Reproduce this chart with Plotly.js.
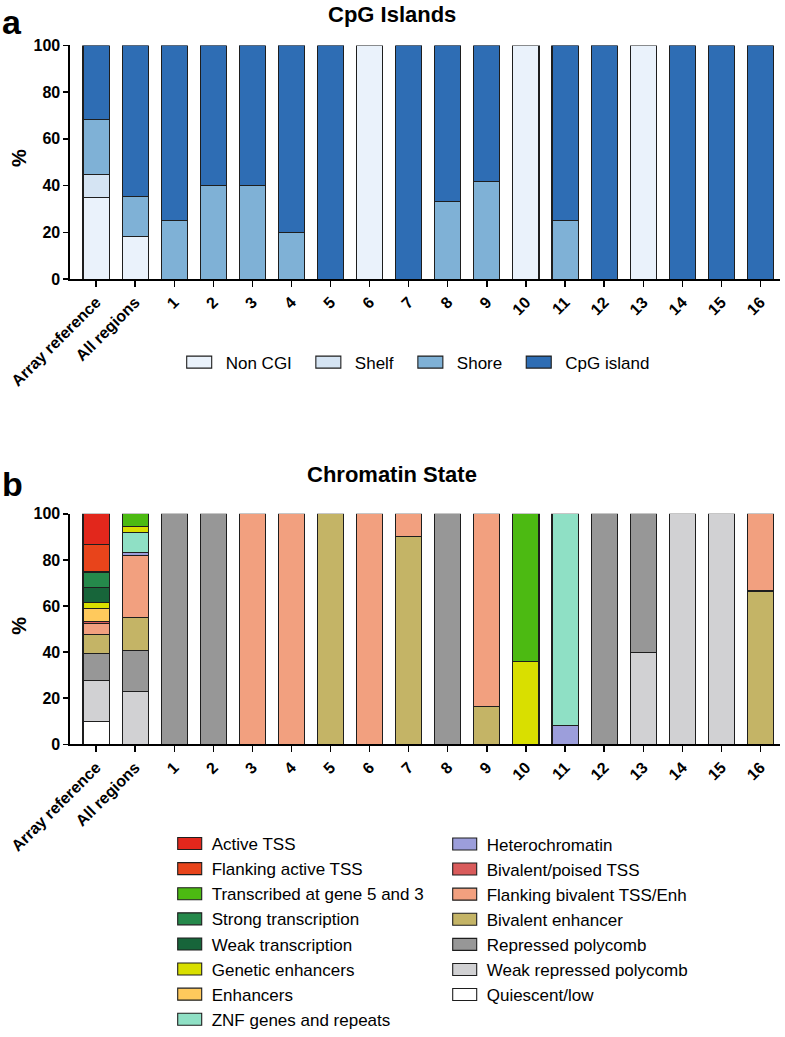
<!DOCTYPE html>
<html>
<head>
<meta charset="utf-8">
<script src="https://cdn.plot.ly/plotly-3.0.1.min.js"></script>
<style>
  html, body { margin: 0; padding: 0; background: #fff; }
  #chart { width: 785px; height: 1037px; }
</style>
</head>
<body>
<div id="chart"></div>
<script>
// ---------- categories ----------
const categories = ['Array reference', 'All regions', '1', '2', '3', '4', '5', '6', '7', '8',
  '9', '10', '11', '12', '13', '14', '15', '16'];

// ---------- panel a: CpG Islands (%) ----------
const cgiNames = ['Non CGI', 'Shelf', 'Shore', 'CpG island'];
const cgiColors = ['#eaf2fb', '#d5e4f3', '#7fb1d6', '#2e6db4'];
const nonCGI    = [35.1, 18.3, null, null, null, null, null, 100, null, null, null, 100, null, null, 100, null, null, null];
const shelf     = [9.5, null, null, null, null, null, null, null, null, null, null, null, null, null, null, null, null, null];
const shore     = [23.7, 16.9, 25, 40, 40, 20, null, null, null, 33.3, 41.7, null, 25, null, null, null, null, null];
const cpgIsland = [31.7, 64.8, 75, 60, 60, 80, 100, null, 100, 66.7, 58.3, null, 75, 100, null, 100, 100, 100];

// ---------- panel b: Chromatin State (%) ----------
const quiescent   = [9.8, null, null, null, null, null, null, null, null, null, null, null, null, null, null, null, null, null];
const weakRepPc   = [17.8, 23.0, null, null, null, null, null, null, null, null, null, null, null, null, 40, 100, 100, null];
const repressedPc = [11.9, 17.7, 100, 100, null, null, null, null, null, 100, null, null, null, 100, 60, null, null, null];
const bivEnh      = [8.0, 14.4, null, null, null, null, 100, null, 90, null, 16.5, null, null, null, null, null, null, 66.5];
const flankBiv    = [4.9, 27.0, null, null, 100, 100, null, 100, 10, null, 83.5, null, null, null, null, null, null, 33.5];
const bivPoised   = [0.8, null, null, null, null, null, null, null, null, null, null, null, null, null, null, null, null, null];
const heterochrom = [0.1, 1.0, null, null, null, null, null, null, null, null, null, null, 8, null, null, null, null, null];
const znfRepeats  = [0.1, 8.6, null, null, null, null, null, null, null, null, null, null, 92, null, null, null, null, null];
const enhancers   = [5.6, null, null, null, null, null, null, null, null, null, null, null, null, null, null, null, null, null];
const geneticEnh  = [2.4, 2.9, null, null, null, null, null, null, null, null, null, 36, null, null, null, null, null, null];
const weakTx      = [6.5, null, null, null, null, null, null, null, null, null, null, null, null, null, null, null, null, null];
const strongTx    = [6.5, null, null, null, null, null, null, null, null, null, null, null, null, null, null, null, null, null];
const transcribed = [0.4, 5.4, null, null, null, null, null, null, null, null, null, 64, null, null, null, null, null, null];
const flankActive = [11.9, null, null, null, null, null, null, null, null, null, null, null, null, null, null, null, null, null];
const activeTSS   = [13.3, null, null, null, null, null, null, null, null, null, null, null, null, null, null, null, null, null];

// stacking order bottom -> top
const chromNames = ['Quiescent/low', 'Weak repressed polycomb', 'Repressed polycomb', 'Bivalent enhancer',
  'Flanking bivalent TSS/Enh', 'Bivalent/poised TSS', 'Heterochromatin', 'ZNF genes and repeats',
  'Enhancers', 'Genetic enhancers', 'Weak transcription', 'Strong transcription',
  'Transcribed at gene 5 and 3', 'Flanking active TSS', 'Active TSS'];
const chromColors = ['#ffffff', '#d1d1d3', '#979797', '#c4b466',
  '#f2a07f', '#d95b5b', '#9c9edb', '#8fe0c5',
  '#ffc95c', '#d9df00', '#17653a', '#25894b',
  '#4cba12', '#e8441b', '#e2271c'];
const chromValues = [quiescent, weakRepPc, repressedPc, bivEnh, flankBiv, bivPoised, heterochrom, znfRepeats,
  enhancers, geneticEnh, weakTx, strongTx, transcribed, flankActive, activeTSS];
// which legend column each state goes into (right column = first 7 in stack order)
const chromLegend = ['legend3', 'legend3', 'legend3', 'legend3', 'legend3', 'legend3', 'legend3', 'legend2',
  'legend2', 'legend2', 'legend2', 'legend2', 'legend2', 'legend2', 'legend2'];

// ---------- geometry ----------
const W = 785, H = 1037;
const py = v => 1 - v / H;
const px = v => v / W;

const FONT = 'Arial, "Liberation Sans", Helvetica, sans-serif';
const outline = { color: '#1e1e1e', width: 1.1 };

const traces = [];
const cgiValues = [nonCGI, shelf, shore, cpgIsland];
cgiNames.forEach((n, i) => {
  traces.push({
    type: 'bar', name: n, x: categories, y: cgiValues[i],
    xaxis: 'x', yaxis: 'y', legend: 'legend',
    marker: { color: cgiColors[i], line: outline },
    hoverinfo: 'name+y'
  });
});
chromNames.forEach((n, i) => {
  traces.push({
    type: 'bar', name: n, x: categories, y: chromValues[i],
    xaxis: 'x2', yaxis: 'y2', legend: chromLegend[i],
    marker: { color: chromColors[i], line: outline },
    hoverinfo: 'name+y'
  });
});

const xRange = [-0.667, 17.5];
const xCommon = {
  type: 'category', range: xRange, domain: [px(70), px(780)],
  showline: true, linecolor: '#000', linewidth: 1.6,
  ticks: 'outside', ticklen: 6, tickwidth: 1.4, tickcolor: '#000',
  tickangle: -45, tickfont: { family: FONT, size: 16, color: '#000', weight: 'bold' },
  showgrid: false, zeroline: false, fixedrange: true
};
const yCommon = {
  range: [0, 100], tickvals: [0, 20, 40, 60, 80, 100],
  showline: true, linecolor: '#000', linewidth: 1.6,
  ticks: 'outside', ticklen: 5, tickwidth: 1.4, tickcolor: '#000',
  tickfont: { family: FONT, size: 16, color: '#000', weight: 'bold' },
  showgrid: false, zeroline: false, fixedrange: true
};

const legendFont = { family: FONT, size: 17, color: '#000' };

const layout = {
  width: W, height: H,
  margin: { l: 0, r: 0, t: 0, b: 0 },
  paper_bgcolor: '#fff', plot_bgcolor: '#fff',
  barmode: 'stack', bargap: 0.333,
  showlegend: true,
  xaxis: Object.assign({}, xCommon, { anchor: 'y' }),
  yaxis: Object.assign({}, yCommon, { domain: [py(281), py(45.7)], anchor: 'x' }),
  xaxis2: Object.assign({}, xCommon, { anchor: 'y2' }),
  yaxis2: Object.assign({}, yCommon, { domain: [py(749.3), py(517.3)], anchor: 'x2' }),
  legend: {
    orientation: 'h', x: px(167.7), xanchor: 'left', y: py(365), yanchor: 'middle',
    traceorder: 'normal', itemwidth: 48, font: legendFont, bgcolor: 'rgba(0,0,0,0)'
  },
  legend2: {
    orientation: 'v', x: px(171.7), xanchor: 'left', y: py(832), yanchor: 'top',
    traceorder: 'reversed', font: legendFont, bgcolor: 'rgba(0,0,0,0)'
  },
  legend3: {
    orientation: 'v', x: px(446.7), xanchor: 'left', y: py(832), yanchor: 'top',
    traceorder: 'reversed', font: legendFont, bgcolor: 'rgba(0,0,0,0)'
  },
  annotations: [
    { text: 'CpG Islands', xref: 'paper', yref: 'paper', x: px(392), y: py(15), xanchor: 'center', yanchor: 'middle',
      showarrow: false, font: { family: FONT, size: 22, color: '#000', weight: 'bold' } },
    { text: 'Chromatin State', xref: 'paper', yref: 'paper', x: px(392), y: py(478), xanchor: 'center', yanchor: 'middle',
      showarrow: false, font: { family: FONT, size: 22, color: '#000', weight: 'bold' } },
    { text: 'a', xref: 'paper', yref: 'paper', x: px(0), y: py(1), xanchor: 'left', yanchor: 'top',
      showarrow: false, font: { family: FONT, size: 34, color: '#000', weight: 'bold' } },
    { text: 'b', xref: 'paper', yref: 'paper', x: px(0), y: py(487), xanchor: 'left', yanchor: 'middle',
      showarrow: false, font: { family: FONT, size: 34, color: '#000', weight: 'bold' } },
    { text: '%', xref: 'paper', yref: 'paper', x: px(19), y: py(159), xanchor: 'center', yanchor: 'middle', textangle: -90,
      showarrow: false, font: { family: FONT, size: 20, color: '#000', weight: 'bold' } },
    { text: '%', xref: 'paper', yref: 'paper', x: px(19), y: py(630), xanchor: 'center', yanchor: 'middle', textangle: -90,
      showarrow: false, font: { family: FONT, size: 20, color: '#000', weight: 'bold' } }
  ]
};

Plotly.newPlot('chart', traces, layout, { staticPlot: true, displayModeBar: false }).then(() => {
  // widen legend swatches to rectangles like the original
  document.querySelectorAll('g.legend .legendpoints path').forEach(p => p.setAttribute('d', 'M-10,6H15V-6H-10Z'));
  document.querySelectorAll('g.legend2 .legendpoints path, g.legend3 .legendpoints path')
    .forEach(p => p.setAttribute('d', 'M-14,6H10V-6H-14Z'));
});
</script>
</body>
</html>
